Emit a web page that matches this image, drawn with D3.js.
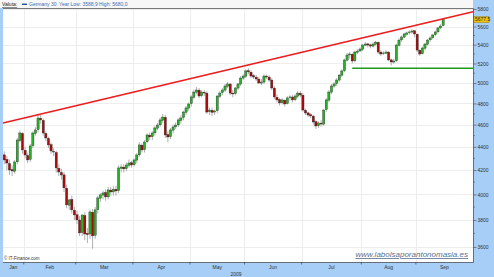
<!DOCTYPE html>
<html>
<head>
<meta charset="utf-8">
<script src="https://cdn.jsdelivr.net/npm/d3@7"></script>
<style>
  body { margin: 0; background: #a6cef7; }
  svg { display: block; font-family: "Liberation Sans", Arial, sans-serif; }
</style>
</head>
<body>
<svg id="chart" width="494" height="277"></svg>
<script>
// Daily OHLC, Germany 30, trading days from 21 Jan 2009.
var opens = [
  4330,4290,4255,4205,4190,4270,4455,4520,4370,4325,
  4290,4410,4520,4555,4660,4640,4520,4475,4420,4360,
  4350,4215,4180,4160,4050,3915,3960,3875,3840,3800,
  3705,3835,3700,3695,3860,3685,3880,3970,3995,4015,
  3980,4035,4020,4042,4030,4215,4225,4212,4240,4262,
  4245,4285,4330,4415,4375,4445,4505,4490,4525,4568,
  4598,4640,4668,4510,4490,4550,4580,4598,4640,4665,
  4715,4755,4798,4860,4910,4930,4875,4908,4900,4720,
  4735,4718,4730,4870,4905,4930,4968,4990,4900,4895,
  4950,4990,5050,5070,5125,5110,5075,5060,5040,5000,
  5010,5070,5060,5030,4950,4860,4838,4806,4830,4798,
  4855,4862,4836,4870,4900,4880,4735,4710,4692,4680,
  4628,4590,4614,4605,4740,4832,4910,4970,4994,5030,
  5080,5125,5235,5290,5298,5228,5318,5332,5350,5395,
  5408,5398,5384,5405,5425,5320,5302,5308,5320,5238,
  5215,5228,5392,5452,5482,5515,5530,5538,5552,5515,
  5340,5302,5362,5405,5452,5475,5508,5540,5585,5610
];
var highs = [
  4360,4320,4290,4240,4285,4480,4545,4530,4400,4350,
  4425,4540,4575,4700,4690,4660,4540,4490,4440,4390,
  4365,4250,4210,4185,4080,3965,3990,3900,3870,3830,
  3780,3860,3740,3880,3885,3900,3990,4010,4030,4040,
  4060,4060,4065,4070,4240,4250,4250,4265,4290,4280,
  4300,4345,4440,4430,4460,4520,4530,4540,4590,4615,
  4665,4700,4690,4540,4570,4600,4620,4660,4690,4730,
  4775,4810,4880,4935,4960,4950,4930,4930,4920,4760,
  4760,4740,4880,4920,4950,4990,5010,5000,4930,4960,
  5000,5070,5090,5140,5150,5130,5090,5080,5060,5040,
  5090,5085,5080,5050,4970,4890,4850,4850,4840,4870,
  4880,4880,4890,4920,4920,4900,4750,4720,4710,4690,
  4640,4630,4640,4750,4850,4930,4990,5010,5050,5090,
  5140,5250,5310,5320,5310,5335,5350,5370,5410,5430,
  5420,5410,5425,5440,5435,5340,5330,5340,5330,5250,
  5250,5410,5470,5500,5530,5545,5555,5570,5560,5520,
  5350,5380,5420,5460,5490,5520,5555,5595,5625,5680
];
var lows = [
  4250,4200,4160,4150,4170,4250,4440,4340,4300,4260,
  4270,4390,4500,4530,4610,4500,4450,4390,4340,4320,
  4180,4150,4120,4020,3890,3880,3850,3800,3770,3680,
  3680,3650,3630,3660,3588,3660,3850,3940,3960,3950,
  3960,3990,3990,3990,4010,4180,4180,4190,4220,4220,
  4230,4260,4310,4350,4350,4430,4460,4460,4500,4550,
  4580,4620,4480,4440,4470,4520,4560,4580,4610,4640,
  4690,4730,4770,4840,4890,4850,4860,4870,4700,4690,
  4680,4690,4710,4850,4880,4910,4950,4880,4860,4880,
  4930,4970,5030,5050,5090,5050,5040,5020,4990,4980,
  4990,5040,5010,4930,4840,4810,4780,4790,4770,4790,
  4830,4810,4820,4850,4860,4720,4690,4670,4660,4600,
  4560,4570,4580,4590,4720,4810,4890,4950,4970,5010,
  5060,5110,5220,5250,5200,5210,5300,5320,5330,5380,
  5370,5360,5370,5390,5300,5280,5290,5300,5225,5180,
  5200,5215,5380,5430,5470,5500,5510,5520,5480,5320,
  5280,5295,5340,5390,5430,5460,5490,5520,5570,5600
];
var closes = [
  4286,4260,4201,4193,4269,4461,4524,4373,4329,4286,
  4408,4524,4552,4662,4644,4524,4479,4417,4364,4355,
  4218,4184,4159,4053,3917,3956,3878,3839,3801,3703,
  3839,3695,3690,3862,3681,3878,3972,3996,4012,3980,
  4036,4020,4040,4028,4218,4226,4210,4243,4260,4243,
  4286,4329,4417,4373,4443,4506,4488,4524,4570,4597,
  4644,4671,4506,4488,4552,4579,4597,4644,4662,4718,
  4757,4795,4863,4911,4931,4872,4911,4901,4718,4737,
  4715,4728,4872,4901,4931,4971,4991,4901,4892,4951,
  4991,5051,5071,5123,5113,5071,5061,5041,5001,5011,
  5071,5061,5031,4951,4863,4834,4805,4834,4795,4853,
  4863,4834,4872,4901,4882,4737,4709,4690,4681,4625,
  4588,4616,4606,4737,4834,4911,4971,4991,5031,5081,
  5123,5237,5289,5300,5226,5321,5331,5353,5396,5407,
  5396,5385,5407,5428,5321,5300,5310,5321,5237,5216,
  5226,5396,5450,5484,5517,5528,5539,5550,5517,5342,
  5300,5364,5407,5450,5473,5506,5539,5584,5606,5677.5
];

var yTicks = [3600,3800,4000,4200,4400,4600,4800,5000,5200,5400,5600,5800];
var monthNames = ['Jan','Feb','Mar','Apr','May','Jun','Jul','Aug','Sep'];

// trend lines drawn by the author: [slot index, value]
var resistance = [[-0.5, 4616], [180.5, 5769]];
var support = [[134, 5150], [180.5, 5150]];

var W = 494, H = 277;
var plot = {left: 3, right: 473, top: 8, bottom: 262};
var nSlots = 181;

// trading days (weekdays) starting 21 Jan 2009
var days = d3.timeDay.range(new Date(2009, 0, 21), new Date(2009, 9, 30))
  .filter(function(d) { return d.getDay() !== 0 && d.getDay() !== 6; })
  .slice(0, nSlots);

var data = closes.map(function(c, i) {
  return {i: i, o: opens[i], h: highs[i], l: lows[i], c: c};
});

var x = d3.scaleLinear().domain([-0.5, nSlots - 0.5]).range([plot.left, plot.right]);
var y = d3.scaleLog().domain([3600, 5800]).range([247, 9]);

var svg = d3.select('#chart');

// header strip
svg.append('rect').attr('x', 0).attr('y', 0).attr('width', plot.right).attr('height', plot.top)
  .attr('fill', '#f7f7f7');
svg.append('rect').attr('x', plot.left).attr('y', plot.top)
  .attr('width', plot.right - plot.left).attr('height', plot.bottom - plot.top)
  .attr('fill', '#fff');

var header = svg.append('g').attr('font-size', 5);
header.append('text').attr('x', 2).attr('y', 6).attr('fill', '#222')
  .attr('text-decoration', 'underline').text('Valuta:');
header.append('rect').attr('x', 22).attr('y', 3.6).attr('width', 5).attr('height', 1.4)
  .attr('fill', '#1d4fa0');
header.append('text').attr('x', 29).attr('y', 6).attr('fill', '#3b6db3').text('Germany 30');
header.append('text').attr('x', 59).attr('y', 6).attr('fill', '#3b6db3')
  .text('Year Low: 3588,9 High: 5680,0');

// month boundaries
var monthStarts = [];
days.forEach(function(d, i) {
  if (i > 0 && d.getMonth() !== days[i - 1].getMonth()) monthStarts.push(i);
});
var bounds = [plot.left].concat(monthStarts.map(function(i) { return x(i - 0.5); }), [plot.right]);

var grid = svg.append('g').attr('stroke', '#e8e8e8').attr('stroke-width', 0.8);
grid.selectAll('line.h').data(yTicks).enter().append('line')
  .attr('x1', plot.left).attr('x2', plot.right)
  .attr('y1', function(d) { return Math.round(y(d)) + 0.5; })
  .attr('y2', function(d) { return Math.round(y(d)) + 0.5; });
grid.selectAll('line.v').data(monthStarts).enter().append('line')
  .attr('y1', plot.top).attr('y2', plot.bottom)
  .attr('x1', function(i) { return Math.round(x(i - 0.5)) + 0.5; })
  .attr('x2', function(i) { return Math.round(x(i - 0.5)) + 0.5; });

// candles
var candles = svg.append('g').selectAll('g').data(data).enter().append('g');
candles.append('line')
  .attr('x1', function(d) { return x(d.i); }).attr('x2', function(d) { return x(d.i); })
  .attr('y1', function(d) { return y(d.h); }).attr('y2', function(d) { return y(d.l); })
  .attr('stroke', '#999').attr('stroke-width', 0.8);
candles.append('rect')
  .attr('x', function(d) { return x(d.i) - 1.1; })
  .attr('width', 2.2)
  .attr('y', function(d) { return y(Math.max(d.o, d.c)); })
  .attr('height', function(d) { return Math.max(0.6, Math.abs(y(d.o) - y(d.c))); })
  .attr('fill', function(d) { return d.c >= d.o ? '#27b327' : '#a80c0c'; })
  .attr('stroke', '#222').attr('stroke-width', 0.35);

// trend lines
var line = d3.line().x(function(p) { return x(p[0]); }).y(function(p) { return y(p[1]); });
svg.append('path').attr('d', line(resistance)).attr('fill', 'none')
  .attr('stroke', '#ee1c1c').attr('stroke-width', 1.6);
svg.append('path').attr('d', line(support)).attr('fill', 'none')
  .attr('stroke', '#1e9a1e').attr('stroke-width', 1.6);

// frame
svg.append('path')
  .attr('d', 'M' + plot.left + ',' + (plot.top + 0.5) + 'H' + (plot.right + 0.5) +
    'V' + (plot.bottom + 0.5) + 'H' + plot.left)
  .attr('fill', 'none').attr('stroke', '#555').attr('stroke-width', 0.8);

// right axis
var yAxis = d3.axisRight(y).tickValues(yTicks).tickSize(3).tickPadding(1)
  .tickFormat(d3.format('d'));
var ya = svg.append('g').attr('transform', 'translate(' + (plot.right + 0.5) + ',0)').call(yAxis);
ya.select('.domain').remove();
ya.selectAll('text').attr('font-size', 5).attr('fill', '#333').attr('font-family', null);
ya.selectAll('line').attr('stroke', '#444').attr('stroke-width', 0.6);
var minor = d3.range(3700, 5800, 200);
svg.append('g').selectAll('line').data(minor).enter().append('line')
  .attr('x1', plot.right).attr('x2', plot.right + 2)
  .attr('y1', function(d) { return y(d); }).attr('y2', function(d) { return y(d); })
  .attr('stroke', '#444').attr('stroke-width', 0.5);

// last value marker
var last = closes[closes.length - 1];
svg.append('rect').attr('x', plot.right + 1).attr('y', y(last) - 3)
  .attr('width', 15).attr('height', 6)
  .attr('fill', '#f3c20c').attr('stroke', '#8a6d00').attr('stroke-width', 0.4);
svg.append('text').attr('x', plot.right + 2).attr('y', y(last) + 1.8)
  .attr('font-size', 5).attr('fill', '#222').text(d3.format('.1f')(last).replace('.', ','));

// bottom month ticks and labels
svg.append('g').selectAll('line').data(monthStarts).enter().append('line')
  .attr('x1', function(i) { return x(i - 0.5); }).attr('x2', function(i) { return x(i - 0.5); })
  .attr('y1', plot.bottom).attr('y2', plot.bottom + 2.5)
  .attr('stroke', '#333').attr('stroke-width', 0.6);
svg.append('g').selectAll('text').data(monthNames).enter().append('text')
  .attr('x', function(m, k) { return (bounds[k] + bounds[k + 1]) / 2; })
  .attr('y', 269).attr('text-anchor', 'middle').attr('font-size', 5).attr('fill', '#333')
  .text(function(m) { return m; });
svg.append('text').attr('x', 236).attr('y', 275.5).attr('text-anchor', 'middle')
  .attr('font-size', 5).attr('fill', '#333').text('2009');

// credits
svg.append('text').attr('x', 4).attr('y', 260).attr('font-size', 4.5).attr('fill', '#333')
  .text('\u00a9 IT-Finance.com');
svg.append('text').attr('x', 468).attr('y', 257).attr('text-anchor', 'end')
  .attr('font-size', 8).attr('font-style', 'italic').attr('text-decoration', 'underline')
  .attr('fill', '#5b6f8c').text('www.labolsaporantonomasia.es');
</script>
</body>
</html>
